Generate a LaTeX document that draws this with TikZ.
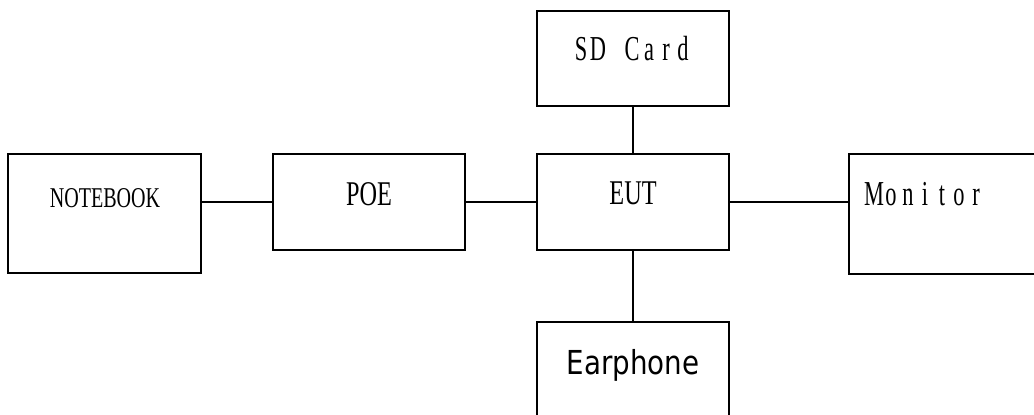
\documentclass[tikz,border=0pt]{standalone}
\usepackage{fontspec}
\setmainfont{Liberation Serif}
\newfontfamily\serifc[FakeStretch=0.7]{Liberation Serif}
\newfontfamily\serifm[FakeStretch=0.64]{Liberation Serif}
\newfontfamily\sansc[FakeStretch=0.84]{DejaVu Sans}
\newcommand\mcell[1]{\makebox[12.75pt]{#1}}
\tikzset{
  blk/.style={draw=black, line width=1.5pt, inner sep=0pt, outer sep=0pt, fill=none},
  wire/.style={draw=black, line width=1.5pt},
  lbl/.style={inner sep=0pt, anchor=base, text=black},
}
\begin{document}
\begin{tikzpicture}[x=0.75pt, y=-0.75pt]
\useasboundingbox (0,0) rectangle (1034,414);
\clip (0,0) rectangle (1034,414);
% boxes
\node[blk, minimum width=193*0.75pt, minimum height=119*0.75pt] (nb) at (104.5,213.5) {};
\node[blk, minimum width=192*0.75pt, minimum height=96*0.75pt] (poe) at (369,202) {};
\node[blk, minimum width=192*0.75pt, minimum height=96*0.75pt] (eut) at (633,202) {};
\node[blk, minimum width=192*0.75pt, minimum height=95*0.75pt] (sd) at (633,58.5) {};
\node[blk, minimum width=220*0.75pt, minimum height=120*0.75pt] (mon) at (959,214) {};
\node[blk, minimum width=192*0.75pt, minimum height=96*0.75pt] (ear) at (633,370) {};
% labels
\node[lbl] (tnb) at (105,207) {\serifc\fontsize{21.5pt}{24pt}\selectfont NOTEBOOK};
\node[lbl] (tpoe) at (369,205) {\serifc\fontsize{26pt}{30pt}\selectfont POE};
\node[lbl] (teut) at (633,204) {\serifc\fontsize{26pt}{30pt}\selectfont EUT};
\node[lbl] (tsd) at (632,60) {\serifm\fontsize{26.25pt}{30pt}\selectfont\mcell{S}\mcell{D}\mcell{}\mcell{C}\mcell{a}\mcell{r}\mcell{d}};
\node[lbl] (tmon) at (925,205) {\serifm\fontsize{26.25pt}{30pt}\selectfont\mcell{M}\mcell{o}\mcell{n}\mcell{i}\mcell{t}\mcell{o}\mcell{r}};
\node[lbl] (tear) at (633,374) {\sansc\fontsize{24.75pt}{28pt}\selectfont Earphone};
% connectors
\draw[wire] (nb.east |- poe.west) -- (poe.west);
\draw[wire] (poe.east) -- (eut.west);
\draw[wire] (eut.east) -- (mon.west |- eut.east);
\draw[wire] (sd.south) -- (eut.north);
\draw[wire] (eut.south) -- (ear.north);
\end{tikzpicture}
\end{document}
